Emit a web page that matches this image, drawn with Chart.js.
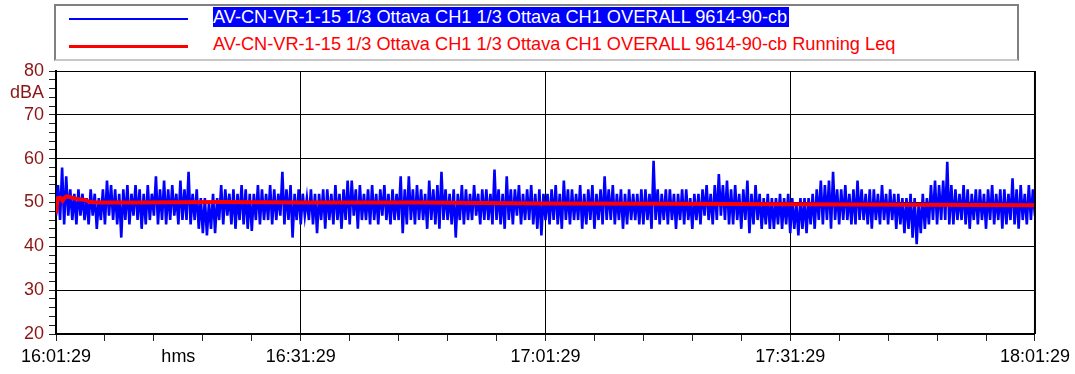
<!DOCTYPE html>
<html lang="it">
<head>
  <meta charset="UTF-8" />
  <title>AV-CN-VR-1-15 Running Leq</title>
  <script src="https://cdn.jsdelivr.net/npm/chart.js"></script>
  <style>
    body { margin: 0; background: #fff; font-family: "Liberation Sans", Arial, sans-serif; }
    #wrap { position: relative; width: 1075px; height: 374px; }
    #legend {
      position: absolute; left: 54px; top: 4px; width: 961px; height: 53px;
      border: 2px solid #808080; border-bottom-color: #c8c8c8; background: #fff;
      font-size: 18.2px;
    }
    .row { position: absolute; left: 0; height: 20px; width: 100%; }
    .swatch { position: absolute; left: 13px; width: 119px; }
    .lbl { position: absolute; left: 157px; white-space: nowrap; line-height: 20px; }
  </style>
</head>
<body>
  <div id="wrap">
    <canvas id="chart" width="1075" height="374"></canvas>
    <div id="legend">
      <div class="row" style="top:1px">
        <div class="swatch" style="top:11px;height:2px;background:#0000ff"></div>
        <span class="lbl" style="background:#0000ff;color:#fff;padding-right:2px">AV-CN-VR-1-15 1/3 Ottava CH1 1/3 Ottava CH1 OVERALL 9614-90-cb</span>
      </div>
      <div class="row" style="top:28px">
        <div class="swatch" style="top:11px;height:3px;background:#ff0000"></div>
        <span class="lbl" style="color:#ff0000">AV-CN-VR-1-15 1/3 Ottava CH1 1/3 Ottava CH1 OVERALL 9614-90-cb Running Leq</span>
      </div>
    </div>
  </div>

  <script>
    // time axis: minutes after 16:01:29
    const timeLabels = ['16:01:29', '16:31:29', '17:01:29', '17:31:29', '18:01:29'];
    const stepMinutes = 0.25; // one level every 15 s

    // overall level, dBA (4 values per minute)
    const levelValues = [
      47, 54, 46, 58,  45, 56, 47, 53,  46, 52, 45, 53,  47, 52, 46, 51,  45, 53, 47, 52,
      44, 51, 46, 53,  45, 55, 47, 54,  46, 53, 45, 52,  42, 53, 46, 54,  45, 52, 47, 54,
      46, 53, 44, 52,  45, 54, 46, 52,  47, 56, 45, 53,  46, 55, 45, 53,  46, 54, 47, 52,
      45, 55, 46, 53,  46, 57, 45, 52,  46, 53, 44, 51,  43, 51, 42.5, 50,  44, 52, 43, 51,
      46, 54, 45, 53,  47, 52, 45, 53,  44, 52, 46, 54,  45, 53, 44, 52,  43.5, 52, 46, 54,
      45, 53, 46, 52,  46, 54, 45, 53,  46, 52, 47, 57,  45, 53, 46, 54,  42, 52, 46, 53,
      45, 52, 47, 51,  46, 53, 45, 52,  43, 52, 46, 53,  44, 53, 46, 52,  45, 54, 46, 52,
      44, 53, 46, 55,  45, 55, 47, 53,  44, 54, 46, 52,  46, 53, 45, 54,  46, 52, 45, 53,
      47, 54, 46, 52,  45, 53, 46, 52,  46, 56, 43, 53,  45, 56, 46, 53,  45, 54, 46, 53,
      46, 52, 44, 55,  46, 53, 45, 54,  44, 57, 46, 53,  46, 52, 45, 53,  42, 52, 46, 54,
      45, 53, 46, 52,  46, 54, 47, 52,  45, 53, 46, 53,  46, 52, 45, 57.5,  46, 53, 45, 52,
      44, 56, 46, 53,  45, 53, 47, 54,  45, 52, 46, 53,  46, 54, 45, 52,  44, 53, 42.5, 52,
      46, 52, 45, 53,  46, 54, 45, 52,  44, 55, 46, 53,  45, 53, 46, 52,  46, 54, 44, 52,
      45, 53, 46, 54,  44, 52, 46, 53,  45, 56, 46, 53,  46, 54, 45, 52,  46, 53, 44, 52,
      45, 53, 46, 52,  46, 52, 45, 53,  45, 53, 46, 52,  44, 59.5, 46, 53,  45, 52, 46, 53,
      45, 53, 46, 52,  44, 52, 46, 53,  45, 53, 46, 51,  44, 52, 46, 52,  45, 53, 47, 54,
      46, 52, 45, 54,  46, 56.5, 47, 54,  46, 55, 45, 53,  45, 54, 46, 52,  44, 53, 46, 55,
      43, 52, 45, 54,  46, 52, 44, 51,  45, 52, 44, 51,  44, 51, 45, 52,  44, 51, 45, 52,
      43, 51, 44, 50,  42.5, 51, 44, 51,  43, 51, 45, 52,  44, 53, 46, 55,  45, 54, 46, 55,
      44, 57, 46, 53,  45, 53, 46, 54,  46, 52, 45, 53,  45, 55, 46, 53,  46, 52, 45, 53,
      44, 53, 46, 52,  45, 54, 46, 52,  45, 53, 46, 52,  44, 52, 45, 51,  43, 51, 44, 52,
      42, 51, 40.5, 50,  43, 52, 44, 51,  45, 54, 46, 55,  45, 54, 46, 55,  46, 59.3, 45, 54,
      45, 53, 46, 52,  46, 54, 45, 53,  44, 52, 46, 53,  45, 53, 46, 52,  44, 53, 46, 54,
      45, 52, 46, 53,  44, 53, 45, 52,  46, 55.5, 45, 53,  44, 54, 46, 52,  45, 54, 46, 53,
      47
    ];

    // running Leq, dBA
    const leqMinutes = [0, 0.2, 0.5, 0.8, 1.0, 1.3, 1.8, 2.5, 3.5, 4.2, 5, 10, 20, 30, 45, 60, 75, 90, 105, 120];
    const leqValues  = [47.5, 51.0, 51.1, 50.4, 51.0, 51.4, 51.2, 50.8, 50.6, 50.1, 50.0, 50.0, 50.1, 50.0, 50.0, 49.8, 49.7, 49.6, 49.5, 49.4];

    const levelPoints = levelValues.map((v, i) => ({ x: i * stepMinutes, y: v }));
    const leqPoints = leqValues.map((v, i) => ({ x: leqMinutes[i], y: v }));

    const frame = {
      id: 'frame',
      afterDatasetsDraw(chart) {
        const { ctx, chartArea } = chart;
        ctx.save();
        ctx.strokeStyle = '#000';
        ctx.lineWidth = 2;
        ctx.beginPath();
        ctx.moveTo(chartArea.right, chartArea.top);
        ctx.lineTo(chartArea.right, chartArea.bottom);
        ctx.stroke();
        ctx.restore();
      }
    };

    new Chart(document.getElementById('chart'), {
      type: 'line',
      data: {
        datasets: [
          { label: 'Running Leq', data: leqPoints, borderColor: '#ff0000', borderWidth: 4, pointRadius: 0, order: 0 },
          { label: 'Overall', data: levelPoints, borderColor: '#0000ff', borderWidth: 2.6, pointRadius: 0, order: 1 }
        ]
      },
      options: {
        responsive: false,
        animation: false,
        events: [],
        layout: { padding: { top: 71, right: 40, left: 0, bottom: 0 } },
        plugins: { legend: { display: false }, tooltip: { enabled: false } },
        scales: {
          x: {
            type: 'linear', min: 0, max: 120,
            afterBuildTicks: s => {
              const t = [];
              for (let m = 0; m <= 120; m += 6) t.push({ value: m });
              t.splice(3, 0, { value: 15 });
              s.ticks = t;
            },
            afterFit: s => { s.height = 40; },
            border: { color: '#000', width: 2 },
            grid: {
              color: c => (c.tick && c.tick.value % 30 === 0 ? '#000' : 'transparent'),
              tickColor: c => (c.tick && c.tick.value === 15 ? 'transparent' : '#222'),
              lineWidth: 1, tickLength: 7, tickWidth: 1
            },
            ticks: {
              autoSkip: false, maxRotation: 0, padding: 5, color: '#000',
              font: { family: '"Liberation Sans", Arial', size: 18 },
              callback: v => (v === 15 ? 'hms' : v % 30 === 0 ? timeLabels[v / 30] : '')
            }
          },
          y: {
            min: 20, max: 80,
            afterBuildTicks: s => {
              const t = [];
              for (let v = 20; v <= 80; v += 2) t.push({ value: v });
              t.splice(28, 0, { value: 75 });
              s.ticks = t;
            },
            afterFit: s => { s.width = 56; },
            border: { color: '#000', width: 2 },
            grid: {
              color: c => (c.tick && c.tick.value % 10 === 0 ? '#000' : 'transparent'),
              tickColor: c => (c.tick && c.tick.value === 75 ? 'transparent' : '#222'),
              lineWidth: 1, tickLength: 7, tickWidth: 1
            },
            ticks: {
              autoSkip: false, padding: 5, color: '#8b1515',
              font: { family: '"Liberation Sans", Arial', size: 18 },
              callback: v => (v === 75 ? 'dBA' : v % 10 === 0 ? String(v) : '')
            }
          }
        }
      },
      plugins: [frame]
    });
  </script>
</body>
</html>
